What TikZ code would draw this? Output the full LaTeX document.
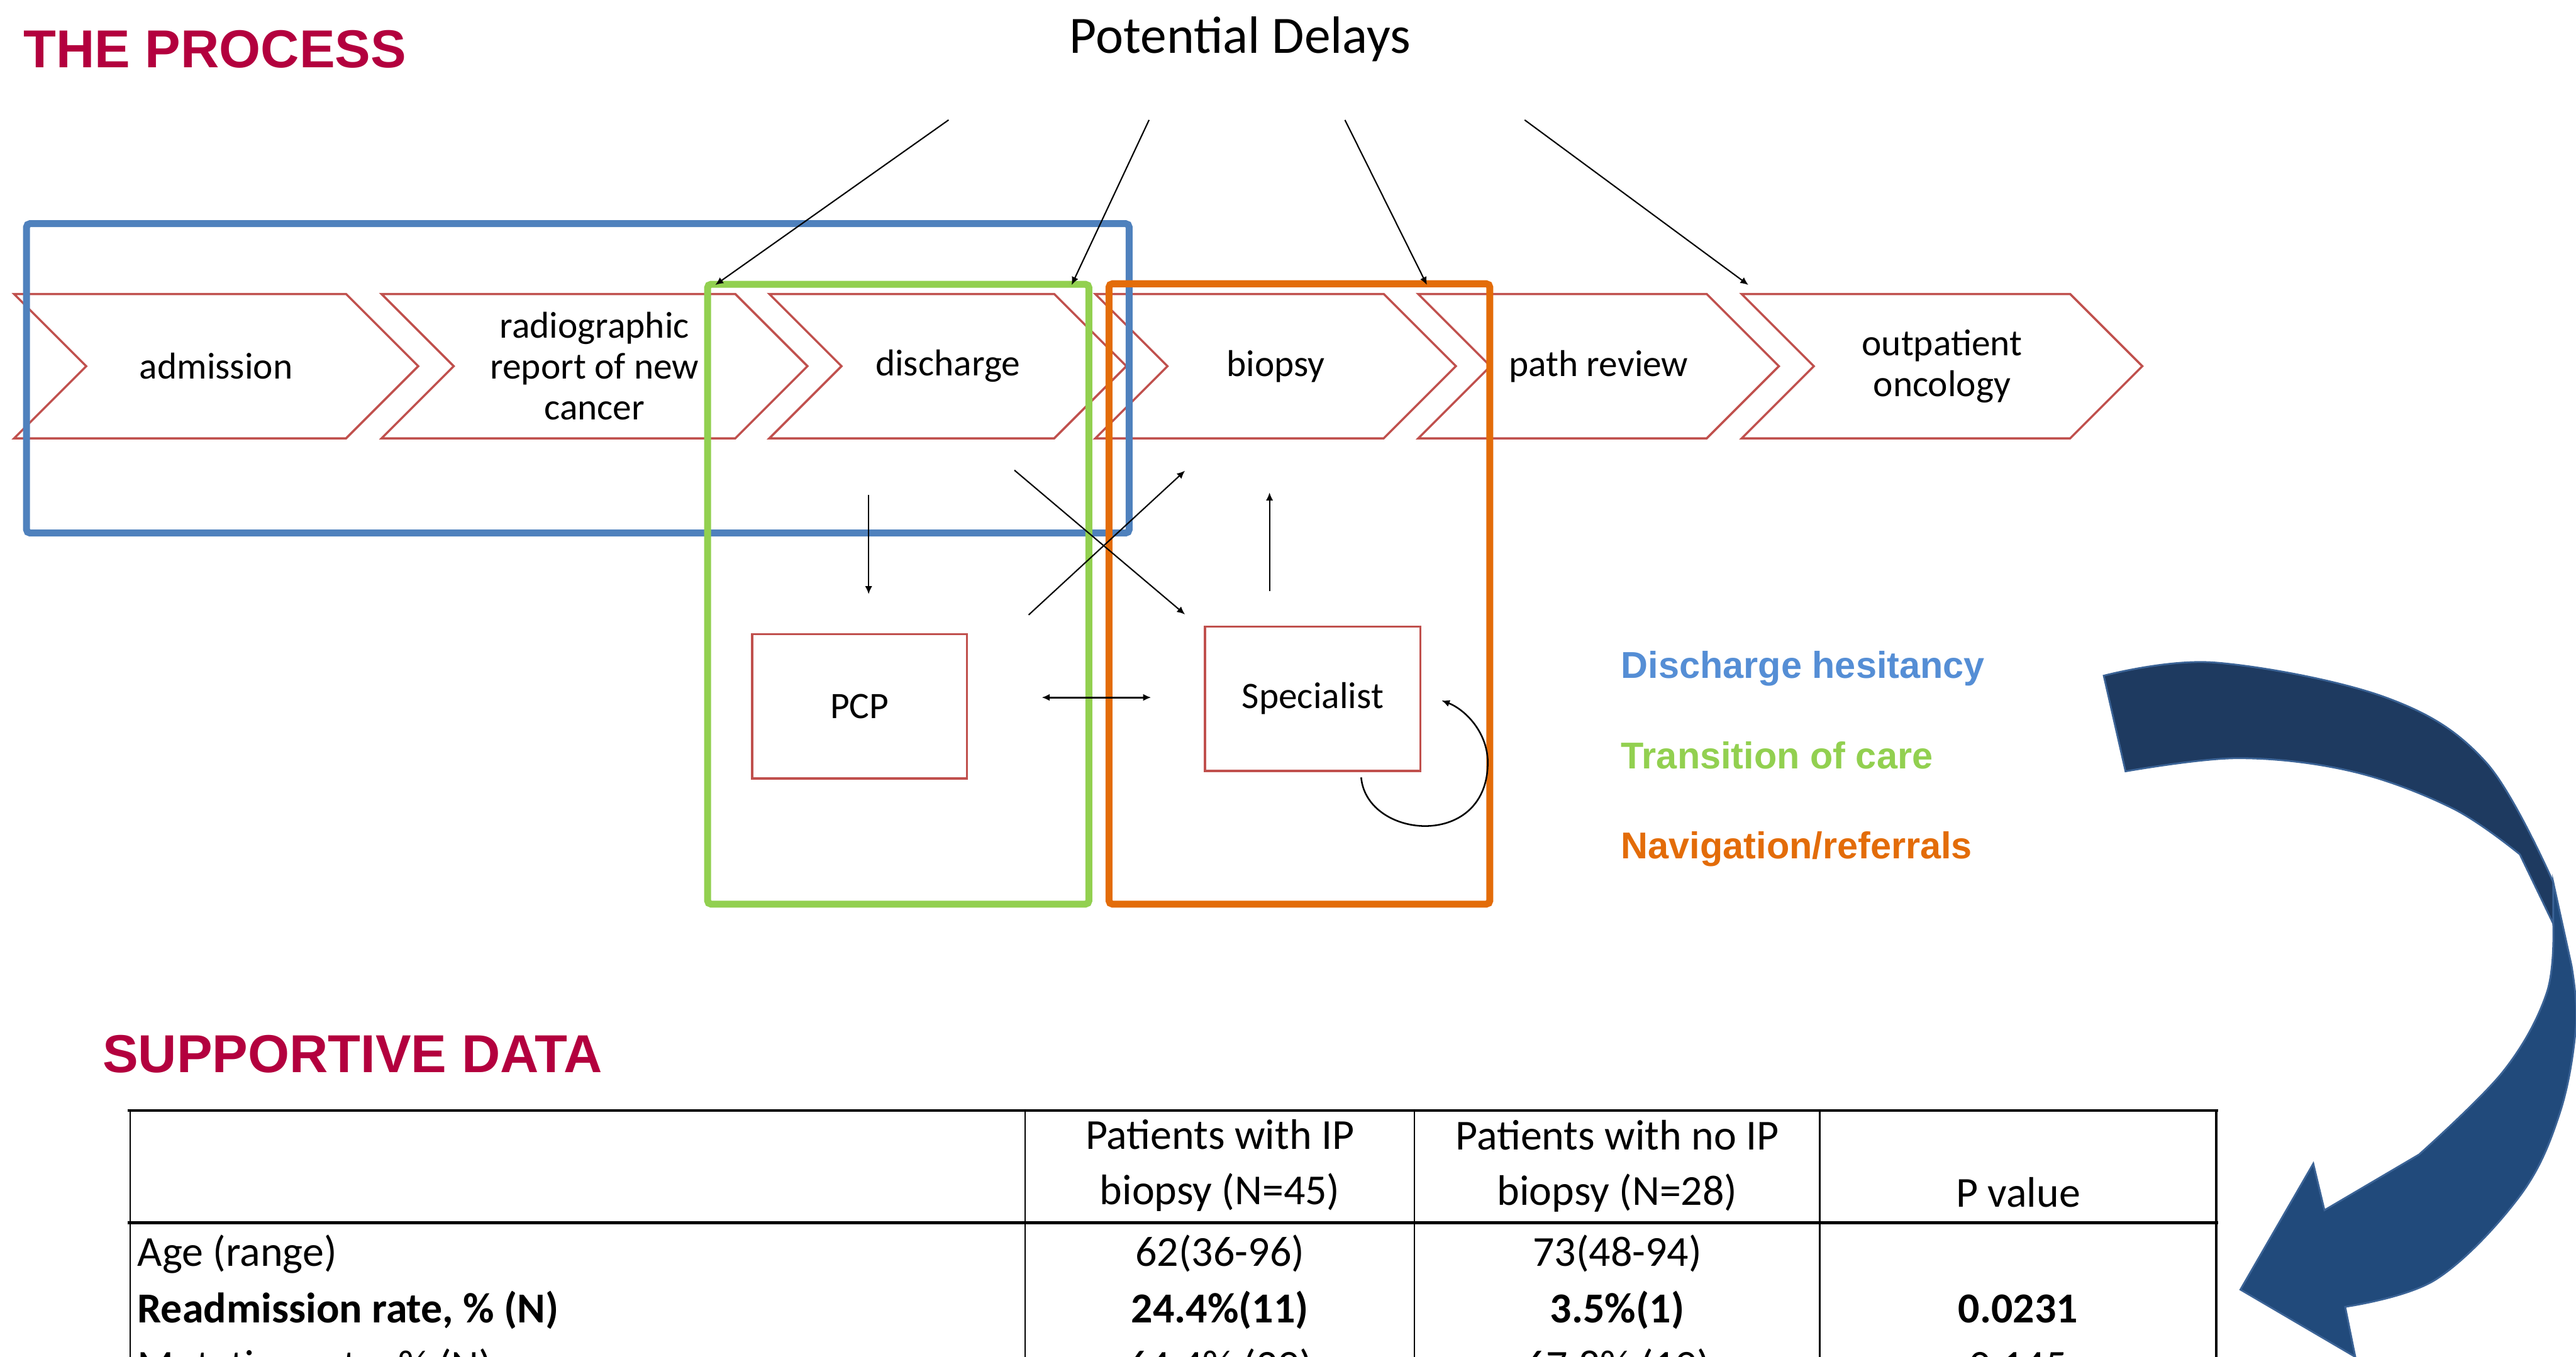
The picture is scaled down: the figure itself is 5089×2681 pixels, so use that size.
\documentclass[tikz,border=0pt]{standalone}
\usepackage{fontspec}
\setmainfont{Carlito}
\newfontfamily\headfont{Liberation Sans}
\usepackage{xcolor}
\usetikzlibrary{shapes,shapes.symbols,arrows.meta,positioning}

\definecolor{processred}{RGB}{179,0,62}
\definecolor{stepred}{RGB}{192,80,77}
\definecolor{hesblue}{RGB}{79,129,189}
\definecolor{hestext}{RGB}{85,142,213}
\definecolor{caregreen}{RGB}{146,208,80}
\definecolor{navorange}{RGB}{227,108,9}
\definecolor{bigdark}{RGB}{30,58,96}
\definecolor{biglight}{RGB}{33,74,123}
\definecolor{bigedge}{RGB}{59,99,150}

\begin{document}
\begin{tikzpicture}[x=0.01cm, y=-0.01cm,
	step_node/.style={signal, signal from=west, signal to=east, draw=stepred, line width=1.2pt, fill=white, minimum height=2.85cm, inner sep=0pt, align=center, font=\fontsize{21}{23}\selectfont},
	care_box/.style={rectangle, draw=stepred, line width=1.3pt, minimum width=4.24cm, minimum height=2.85cm, inner sep=0pt, font=\fontsize{21}{24}\selectfont},
	region_box/.style={rectangle, line width=3.9pt, rounded corners=2pt, inner sep=0pt},
	thin_arrow/.style={-{Latex[length=4.5pt,width=4pt]}, line width=0.75pt},
	head_text/.style={font=\headfont\bfseries\fontsize{30}{36}\selectfont, text=processred, anchor=base west, inner sep=0pt},
	key_text/.style={font=\headfont\bfseries\fontsize{21}{25}\selectfont, anchor=base west, inner sep=0pt},
	cell_text/.style={font=\fontsize{24}{31.2}\selectfont, inner sep=0pt, anchor=base, align=center}]
				\path[use as bounding box, clip] (0,0) rectangle (5089,2681);
				
				% headings
				\node[head_text] (process) at (46,133) {THE PROCESS};
				\node[font=\fontsize{29.5}{35}\selectfont, anchor=base, inner sep=0pt] (delays) at (2450,105) {Potential Delays};
				\node[head_text] (supportive) at (202,2119) {SUPPORTIVE DATA};
				
				% process steps
				\node[step_node, minimum width=7.98cm] (admission) at (427,723.5) {admission};
				\node[step_node, minimum width=8.41cm] (report) at (1174.5,723.5) {radiographic\\report of new\\cancer};
				\node[step_node, minimum width=7.05cm] (discharge) at (1872.5,723.5) {discharge};
				\node[step_node, minimum width=7.12cm] (biopsy) at (2520,723.5) {biopsy};
				\node[step_node, minimum width=7.12cm] (pathreview) at (3158,723.5) {path review};
				\node[step_node, minimum width=7.91cm] (outpatient) at (3836.5,723.5) {outpatient\\oncology};
				
				% problem areas
				\node[region_box, draw=hesblue, minimum width=21.77cm, minimum height=6.11cm] (hesitancy) at (1141.5,747.5) {};
				\node[region_box, draw=caregreen, minimum width=7.53cm, minimum height=12.24cm] (transition) at (1774.5,1174) {};
				\node[region_box, draw=navorange, minimum width=7.52cm, minimum height=12.25cm] (navigation) at (2567,1173.5) {};
				
				\node[care_box] (pcp) at (1698,1395.5) {PCP};
				\node[care_box, minimum width=4.25cm] (specialist) at (2593.5,1380.5) {Specialist};
				
				% delay pointers
				\coordinate (d1a) at (1874,237); \coordinate (d1b) at (1413,563);
				\coordinate (d2a) at (2270,237); \coordinate (d2b) at (2117,563);
				\coordinate (d3a) at (2657,237); \coordinate (d3b) at (2819,563);
				\coordinate (d4a) at (3012,237); \coordinate (d4b) at (3454,563);
				\path[thin_arrow]
				(d1a) edge (d1b)
				(d2a) edge (d2b)
				(d3a) edge (d3b)
				(d4a) edge (d4b);
				
				% referral flow
				\coordinate (m1a) at (1716,978); \coordinate (m1b) at (1716,1174);
				\coordinate (m2a) at (2004,929); \coordinate (m2b) at (2341,1214);
				\coordinate (m3a) at (2032,1215); \coordinate (m3b) at (2341,930);
				\coordinate (m4a) at (2508,1168); \coordinate (m4b) at (2508,973);
				\coordinate (m5a) at (2058,1378); \coordinate (m5b) at (2274,1378);
				\coordinate (loopa) at (2689,1536); \coordinate (loopb) at (2848,1384);
				\path[thin_arrow]
				(m1a) edge (m1b)
				(m2a) edge (m2b)
				(m3a) edge (m3b)
				(m4a) edge (m4b);
				\draw[{Latex[length=4.5pt,width=4pt]}-{Latex[length=4.5pt,width=4pt]}, line width=1pt] (m5a) -- (m5b);
				\draw[thin_arrow, line width=0.9pt] (loopa) .. controls (2700,1660) and (2945,1680) .. (2939,1500) .. controls (2935,1440) and (2890,1400) .. (loopb);
				
				% legend
				\node[key_text, text=hestext] (key_hes) at (3202,1340) {Discharge hesitancy};
				\node[key_text, text=caregreen] (key_care) at (3202,1519) {Transition of care};
				\node[key_text, text=navorange] (key_nav) at (3202,1697) {Navigation/referrals};
				
				% big curved arrow
				\filldraw[fill=biglight, draw=bigedge, line width=1pt] (5044,1743) -- plot[smooth, tension=0.6] coordinates {(5080,1907) (5089,2026) (5057,2199) (4978,2363) (4812,2528) (4633,2582)} -- (4653,2681) -- (4426,2548) -- (4570,2299) -- (4592,2391) -- plot[smooth, tension=0.6] coordinates {(4779,2281) (4945,2117) (5031,1962) (5044,1825)} -- cycle;
				\filldraw[fill=bigdark, draw=bigedge, line width=1pt] plot[smooth, tension=0.6] coordinates {(4156,1335) (4375,1309) (4713,1378) (4911,1506) (5044,1743)} -- (5044,1825) -- plot[smooth, tension=0.6] coordinates {(4978,1688) (4845,1597) (4646,1524) (4421,1498) (4199,1524)} -- cycle;
				
				% table
				\draw[line width=1.7pt] (252,2194) -- (4382,2194) (252,2416) -- (4382,2416);
				\draw[line width=0.9pt] (257,2194) -- (257,2700) (2025,2194) -- (2025,2700) (2794,2194) -- (2794,2700) (3595,2194) -- (3595,2700);
				\draw[line width=1.3pt] (4378,2194) -- (4378,2700);
				\node[cell_text] (ip_head) at (2410,2380) {Patients with IP\\biopsy (N=45)};
				\node[cell_text] (noip_head) at (3195,2381) {Patients with no IP\\biopsy (N=28)};
				\node[cell_text] (p_head) at (3987,2385) {P value};
				\node[cell_text, anchor=base west] (age) at (271,2502) {Age (range)};
				\node[cell_text] (age_ip) at (2410,2502) {62(36-96)};
				\node[cell_text] (age_noip) at (3195,2502) {73(48-94)};
				\node[cell_text, anchor=base west, font=\bfseries\fontsize{24}{31.2}\selectfont] (readm) at (271,2614) {Readmission rate, \% (N)};
				\node[cell_text, font=\bfseries\fontsize{24}{31.2}\selectfont] (readm_ip) at (2410,2614) {24.4\%(11)};
				\node[cell_text, font=\bfseries\fontsize{24}{31.2}\selectfont] (readm_noip) at (3195,2614) {3.5\%(1)};
				\node[cell_text, font=\bfseries\fontsize{24}{31.2}\selectfont] (readm_p) at (3987,2614) {0.0231};
				\node[cell_text, anchor=base west] (mut) at (271,2726) {Mutation rate, \% (N)};
				\node[cell_text] (mut_ip) at (2410,2726) {64.4\% (29)};
				\node[cell_text] (mut_noip) at (3195,2726) {67.8\% (19)};
				\node[cell_text] (mut_p) at (3987,2726) {0.145};
			\end{tikzpicture}
\end{document}
